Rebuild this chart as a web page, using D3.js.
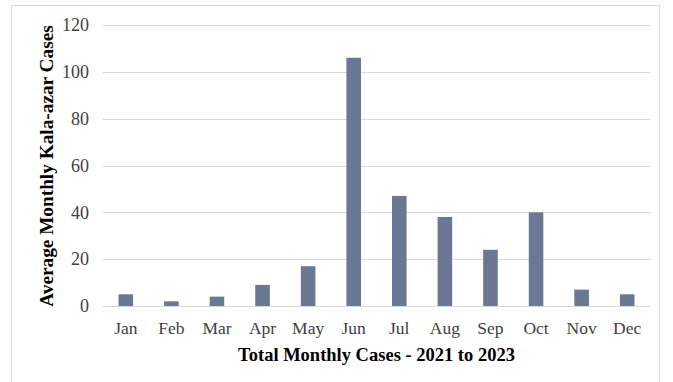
<!DOCTYPE html>
<html>
<head>
<meta charset="utf-8">
<script src="https://cdn.jsdelivr.net/npm/d3@7"></script>
<style>
  body { margin: 0; background: #fff; }
  svg { display: block; font-family: "Liberation Serif", "Times New Roman", serif; }
</style>
</head>
<body>
<div id="chart"></div>
<script>
// Data
const months = ["Jan", "Feb", "Mar", "Apr", "May", "Jun", "Jul", "Aug", "Sep", "Oct", "Nov", "Dec"];
const cases = [5, 2, 4, 9, 17, 106, 47, 38, 24, 40, 7, 5];
const yTicks = [0, 20, 40, 60, 80, 100, 120];

const width = 673,
      height = 382;

const margin = { top: 25, right: 23, bottom: 76, left: 103 };

const svg = d3.select("#chart")
  .append("svg")
    .attr("width", width)
    .attr("height", height);

// Chart frame
svg.append("rect")
    .attr("x", 11.5)
    .attr("y", 5.5)
    .attr("width", 648)
    .attr("height", 400)
    .attr("fill", "#fff")
    .attr("stroke", "#d9d9d9");

// Scales
const x = d3.scaleBand()
    .domain(months)
    .range([margin.left, width - margin.right])
    .paddingInner(0.68)
    .paddingOuter(0.34);

const y = d3.scaleLinear()
    .domain([0, 120])
    .range([height - margin.bottom, margin.top]);

// Gridlines
svg.append("g")
  .selectAll("line")
  .data(yTicks)
  .join("line")
    .attr("x1", margin.left)
    .attr("x2", width - margin.right)
    .attr("y1", d => Math.round(y(d)) + 0.5)
    .attr("y2", d => Math.round(y(d)) + 0.5)
    .attr("stroke", "#d9d9d9")
    .attr("stroke-width", 1.2);

// Y labels
svg.append("g")
  .selectAll("text")
  .data(yTicks)
  .join("text")
    .attr("x", margin.left - 14)
    .attr("y", d => y(d))
    .attr("dy", "0.35em")
    .attr("text-anchor", "end")
    .attr("font-size", 18)
    .attr("fill", "#404040")
    .text(d => d);

// Bars
svg.append("g")
  .selectAll("rect")
  .data(cases)
  .join("rect")
    .attr("x", (d, i) => x(months[i]))
    .attr("y", d => y(d))
    .attr("width", x.bandwidth())
    .attr("height", d => y(0) - y(d))
    .attr("fill", "#6a7894");

// Month labels
svg.append("g")
  .selectAll("text")
  .data(months)
  .join("text")
    .attr("x", d => x(d) + x.bandwidth() / 2)
    .attr("y", y(0) + 28)
    .attr("text-anchor", "middle")
    .attr("font-size", 17.5)
    .attr("fill", "#404040")
    .text(d => d);

// Axis titles
svg.append("text")
    .attr("x", (margin.left + width - margin.right) / 2)
    .attr("y", 361)
    .attr("text-anchor", "middle")
    .attr("font-size", 18.5)
    .attr("font-weight", "bold")
    .attr("fill", "#000")
    .text("Total Monthly Cases - 2021 to 2023");

svg.append("text")
    .attr("transform", "translate(53, 166) rotate(-90)")
    .attr("text-anchor", "middle")
    .attr("font-size", 19.3)
    .attr("font-weight", "bold")
    .attr("fill", "#000")
    .text("Average Monthly Kala-azar Cases");
</script>
</body>
</html>
